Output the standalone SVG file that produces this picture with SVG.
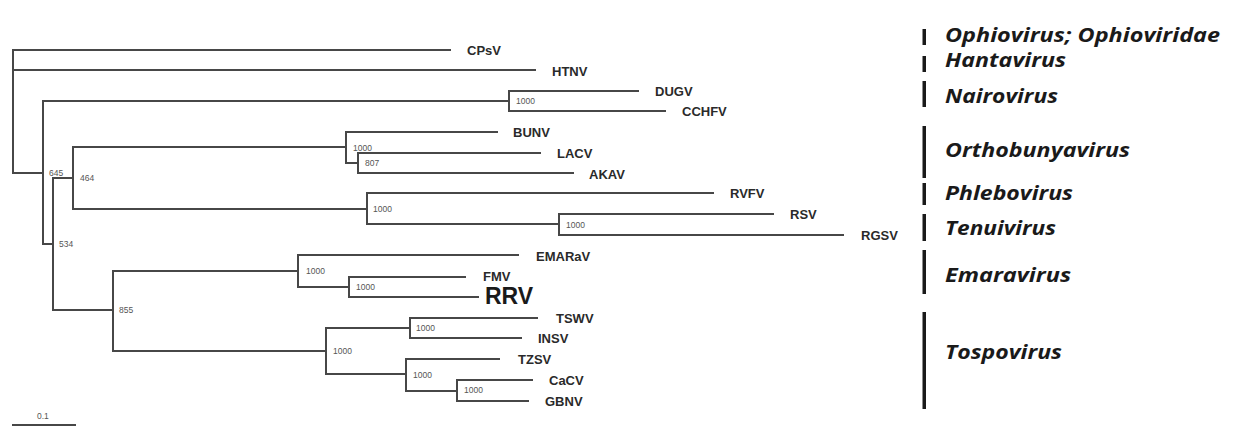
<svg xmlns="http://www.w3.org/2000/svg" width="1247" height="427" viewBox="0 0 1247 427">
<style>
.br{fill:none;stroke:#474747;stroke-width:2;stroke-linecap:square}
.tx{font-family:"Liberation Sans",Arial,sans-serif;font-weight:bold;font-size:13px;fill:#2a2a2a}
.bs{font-family:"Liberation Sans",Arial,sans-serif;font-size:8.5px;fill:#555}
.cl{font-family:"Open Sans","Noto Sans",sans-serif;font-weight:700;font-style:italic;font-size:20px;fill:#1a1a1a}
.bar{fill:#1a1a1a}
</style>
<rect width="1247" height="427" fill="#fff"/>
<g id="connectors">
<path class="br" d="M13,173 V50 H450 M13,70 H535"/>
<path class="br" d="M13,173 H43 M43,101 V244 M43,101 H509 M509,91 V111 M509,91 H638 M509,111 H665"/>
<path class="br" d="M43,244 H53 M53,178 V310 M53,178 H73 M73,147 V209"/>
<path class="br" d="M73,147 H346 M346,132 V163 M346,132 H497 M346,163 H358 M358,153 V173 M358,153 H540 M358,173 H573"/>
<path class="br" d="M73,209 H367 M367,193 V224 M367,193 H713 M367,224 H559 M559,214 V235 M559,214 H773 M559,235 H843"/>
<path class="br" d="M53,310 H113 M113,271 V351 M113,271 H298 M298,255 V287 M298,255 H518 M298,287 H349 M349,277 V297 M349,277 H465 M349,297 H478"/>
<path class="br" d="M113,351 H326 M326,328 V374 M326,328 H410 M410,318 V338 M410,318 H537 M410,338 H521 M326,374 H406 M406,359 V391 M406,359 H499 M406,391 H457 M457,380 V401 M457,380 H532 M457,401 H528"/>
<path class="br" d="M13,425 H75" stroke-width="1.5"/>
</g>
<g id="support">
<text class="bs" x="49" y="176">645</text>
<text class="bs" x="80" y="181">464</text>
<text class="bs" x="59" y="247">534</text>
<text class="bs" x="516" y="104">1000</text>
<text class="bs" x="353" y="151">1000</text>
<text class="bs" x="365" y="166">807</text>
<text class="bs" x="373" y="212">1000</text>
<text class="bs" x="566" y="228">1000</text>
<text class="bs" x="119" y="313">855</text>
<text class="bs" x="306" y="274">1000</text>
<text class="bs" x="356" y="290">1000</text>
<text class="bs" x="333" y="354">1000</text>
<text class="bs" x="416" y="331">1000</text>
<text class="bs" x="413" y="378">1000</text>
<text class="bs" x="464" y="393">1000</text>
<text class="bs" x="37" y="419">0.1</text>
</g>
<g id="taxa">
<text class="tx" x="467" y="55">CPsV</text>
<text class="tx" x="552" y="76">HTNV</text>
<text class="tx" x="655" y="96">DUGV</text>
<text class="tx" x="682" y="116">CCHFV</text>
<text class="tx" x="513" y="137">BUNV</text>
<text class="tx" x="557" y="158">LACV</text>
<text class="tx" x="589" y="179">AKAV</text>
<text class="tx" x="730" y="198">RVFV</text>
<text class="tx" x="790" y="219">RSV</text>
<text class="tx" x="861" y="240">RGSV</text>
<text class="tx" x="536" y="261">EMARaV</text>
<text class="tx" x="483" y="281">FMV</text>
<text class="tx" x="485" y="304" style="font-size:23px;fill:#1a1a1a">RRV</text>
<text class="tx" x="556" y="323">TSWV</text>
<text class="tx" x="538" y="343">INSV</text>
<text class="tx" x="518" y="364">TZSV</text>
<text class="tx" x="549" y="385">CaCV</text>
<text class="tx" x="545" y="406">GBNV</text>
</g>
<g id="clades">
<rect class="bar" x="922.5" y="29" width="3.5" height="16"/>
<rect class="bar" x="922.5" y="56" width="3.5" height="16"/>
<rect class="bar" x="922.5" y="81" width="3.5" height="26"/>
<rect class="bar" x="922.5" y="126" width="3.5" height="52"/>
<rect class="bar" x="922.5" y="183" width="3.5" height="22"/>
<rect class="bar" x="922.5" y="214" width="3.5" height="27"/>
<rect class="bar" x="922.5" y="250" width="3.5" height="44"/>
<rect class="bar" x="922.5" y="312" width="3.5" height="97"/>
<text class="cl" x="945" y="42" textLength="275" lengthAdjust="spacingAndGlyphs">Ophiovirus; Ophioviridae</text>
<text class="cl" x="945" y="67" textLength="121" lengthAdjust="spacingAndGlyphs">Hantavirus</text>
<text class="cl" x="945" y="103" textLength="113" lengthAdjust="spacingAndGlyphs">Nairovirus</text>
<text class="cl" x="945" y="157" textLength="185" lengthAdjust="spacingAndGlyphs">Orthobunyavirus</text>
<text class="cl" x="945" y="200" textLength="128" lengthAdjust="spacingAndGlyphs">Phlebovirus</text>
<text class="cl" x="945" y="235" textLength="111" lengthAdjust="spacingAndGlyphs">Tenuivirus</text>
<text class="cl" x="945" y="282" textLength="126" lengthAdjust="spacingAndGlyphs">Emaravirus</text>
<text class="cl" x="945" y="359" textLength="117" lengthAdjust="spacingAndGlyphs">Tospovirus</text>
</g>
</svg>
